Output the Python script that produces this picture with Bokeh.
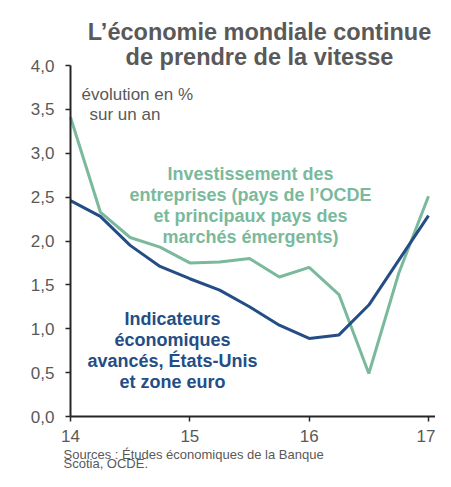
from bokeh.plotting import figure
from bokeh.models import Range1d, Label, FixedTicker, CustomJSTickFormatter
from bokeh.embed import file_html
from bokeh.resources import INLINE

# ---- data ----
quarters = [14.0, 14.25, 14.5, 14.75, 15.0, 15.25, 15.5, 15.75, 16.0, 16.25, 16.5, 16.75, 17.0]
investissement = [3.41, 2.33, 2.04, 1.93, 1.75, 1.76, 1.80, 1.59, 1.70, 1.39, 0.49, 1.63, 2.51]
indicateurs = [2.46, 2.28, 1.95, 1.71, 1.57, 1.44, 1.25, 1.04, 0.89, 0.93, 1.27, 1.78, 2.29]
x_ticks = [14, 15, 16, 17]
x_tick_labels = ["14", "15", "16", "17"]
y_ticks = [0.0, 0.5, 1.0, 1.5, 2.0, 2.5, 3.0, 3.5, 4.0]
title_lines = ["L\u2019\u00e9conomie mondiale continue", "de prendre de la vitesse"]
unit_lines = ["\u00e9volution en %", "sur un an"]
green_label = ["Investissement des", "entreprises (pays de l\u2019OCDE",
               "et principaux pays des", "march\u00e9s \u00e9mergents)"]
blue_label = ["Indicateurs", "\u00e9conomiques", "avanc\u00e9s, \u00c9tats-Unis", "et zone euro"]
source_lines = ["Sources : \u00c9tudes \u00e9conomiques de la Banque", "Scotia, OCDE."]

GREEN = "#7AB99B"
BLUE = "#254D85"
GREY = "#595959"
AXIS = "#262626"
FONT = "Liberation Sans"

W, H = 435, 471
# where the axes sit in the picture (pixels from top-left)
X0_PX, PX_PER_YEAR = 70, 119.33      # x = 14 at 70 px
Y0_PX, PX_PER_UNIT = 416, 87.75      # y = 0 at 416 px
x_lo = 14 - X0_PX / PX_PER_YEAR
x_hi = 14 + (W - X0_PX) / PX_PER_YEAR
y_lo = -(H - Y0_PX) / PX_PER_UNIT
y_hi = Y0_PX / PX_PER_UNIT

p = figure(width=W, height=H, output_backend="svg", toolbar_location=None,
           x_range=Range1d(x_lo, x_hi), y_range=Range1d(y_lo, y_hi),
           min_border=0, min_border_left=0, min_border_right=0,
           min_border_top=0, min_border_bottom=0)
p.outline_line_color = None
p.xgrid.visible = False
p.ygrid.visible = False
p.background_fill_color = "white"
p.border_fill_color = "white"

p.line(quarters, investissement, line_color=GREEN, line_width=3)
p.line(quarters, indicateurs, line_color=BLUE, line_width=3)

for ax in (p.xaxis[0], p.yaxis[0]):
    ax.axis_line_color = AXIS
    ax.axis_line_width = 2
    ax.major_tick_line_color = AXIS
    ax.major_tick_line_width = 1.5
    ax.major_tick_in = 0
    ax.major_tick_out = 5
    ax.minor_tick_line_color = None
    ax.major_label_text_font = FONT
    ax.major_label_text_font_size = "17px"
    ax.major_label_text_color = GREY

p.xaxis.fixed_location = 0
p.xaxis.bounds = (14, x_hi)
p.xaxis.ticker = FixedTicker(ticks=x_ticks)
p.xaxis.major_label_overrides = {t: l for t, l in zip(x_ticks, x_tick_labels)}
p.xaxis.major_label_standoff = 8
p.yaxis.fixed_location = 14
p.yaxis.bounds = (0, 4)
p.yaxis.ticker = FixedTicker(ticks=y_ticks)
p.yaxis.formatter = CustomJSTickFormatter(code="return tick.toFixed(1).replace('.', ',');")
p.yaxis.major_label_standoff = 11

def add(text, px, py, align, color, size, style="normal"):
    # px, py: picture pixels from the top-left corner (canvas units)
    p.add_layout(Label(x=px, y=py, x_units="canvas", y_units="canvas", text=text,
                       text_align=align, text_baseline="alphabetic", text_color=color,
                       text_font=FONT, text_font_size=size, text_font_style=style))

add(title_lines[0], 259, 31.7, "center", GREY, "23.5px", "bold")
add(title_lines[1], 259, 56.7, "center", GREY, "23.5px", "bold")
add(unit_lines[0], 81, 94, "left", GREY, "17px")
add(unit_lines[1], 89, 114, "left", GREY, "17px")
for t, py in zip(green_label, [173, 194, 215, 236]):
    add(t, 250, py, "center", GREEN, "18px", "bold")
for t, py in zip(blue_label, [318, 339, 360, 381]):
    add(t, 172, py, "center", BLUE, "18px", "bold")
add(source_lines[0], 63, 454, "left", GREY, "13px")
add(source_lines[1], 63, 463, "left", GREY, "13px")

open("out.html", "w").write(file_html(p, INLINE))
